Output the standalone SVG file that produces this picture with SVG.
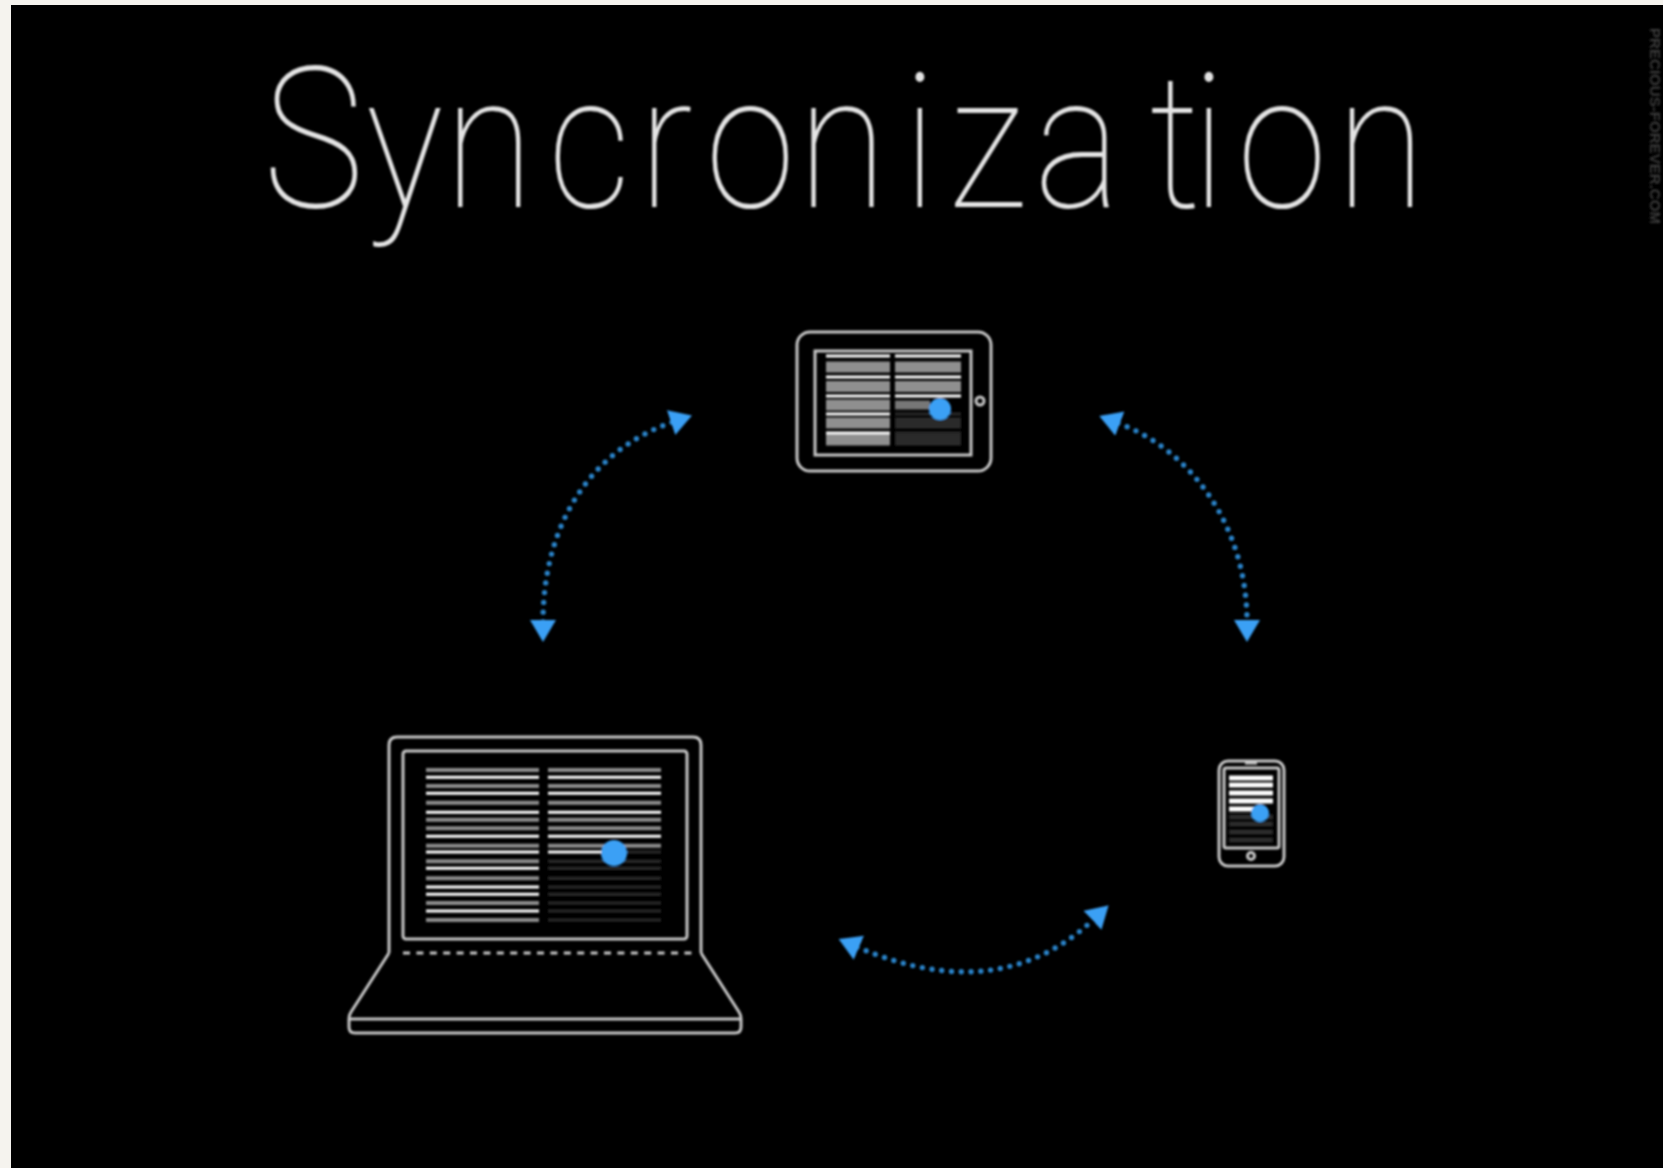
<svg xmlns="http://www.w3.org/2000/svg" width="1663" height="1168" viewBox="0 0 1663 1168">
<style>
.o{fill:none;stroke:#c8c8c8;stroke-width:3}
.g{fill:none;stroke:#8c8c8c;stroke-width:4}
.w{fill:none;stroke:#fff;stroke-width:3}
.d{fill:none;stroke:#2c2c2c;stroke-width:3}
.b{fill:#3ba0f5}
.c{fill:none;stroke:#2a84ca;stroke-width:5.400;stroke-linecap:round;stroke-dasharray:0 9.800}
.t{font-family:Roboto,"Liberation Sans",sans-serif;font-weight:100;fill:#e4e4e4}
</style>
<defs>
<filter id="s" x="-5%" y="-5%" width="110%" height="110%"><feGaussianBlur stdDeviation="0.8"/></filter>
<marker id="a" markerUnits="userSpaceOnUse" markerWidth="26" markerHeight="28" refX="2" refY="13" orient="auto-start-reverse"><path d="M0 0L22 13L0 26Z" fill="#3ba0f5"/></marker>
</defs>
<rect width="1663" height="1168" fill="#f5f3ee"/>
<rect x="11" y="5" width="1652" height="1163" fill="#000"/>
<g filter="url(#s)">
<g id="title"><text class="t" transform="scale(0.87 1)" y="207" font-size="187"><tspan x="350" style="font-size:197px" dx="-48">S</tspan><tspan x="420 511 630 734 811 917 1038 1090 1189 1321 1370 1422 1536">yncronization</tspan></text></g>
<g id="watermark"><text transform="translate(1650 28) rotate(90)" font-family="Liberation Sans,sans-serif" font-weight="700" font-size="15" fill="#3a3a3a" textLength="196" lengthAdjust="spacingAndGlyphs">PRECIOUS-FOREVER.COM</text></g>
<g id="tablet">
<rect class="o" x="797" y="332" width="194" height="139" rx="13"/>
<rect class="o" x="815" y="351" width="156" height="104"/>
<circle class="o" cx="980" cy="401" r="4"/>
<path d="M826 367H890M826 386.500H890M826 405H890M826 423H890M826 440H890M895 367H961M895 386.500H961" class="g" style="stroke-width:11;stroke:#8f8f8f"/>
<path d="M895 405H930" class="g" style="stroke-width:9;stroke:#777"/>
<path d="M895 423H961M895 440H961" class="d" style="stroke-width:11"/>
<path d="M826 356H890M826 377H890M826 396H890M826 414H890M826 433H890M895 356H961M895 377H961M895 396H961" class="w"/>
<path d="M895 414H961M895 433H961" class="d"/>
<circle class="b" cx="940" cy="409" r="11"/>
</g>
<g id="laptop">
<path class="o" d="M389 953V745Q389 737 397 737H693Q701 737 701 745V953"/>
<rect class="o" x="403" y="751" width="284" height="188" rx="3"/>
<path class="o" d="M389 953L351 1012Q349 1015 349 1019V1027Q349 1033 355 1033H735Q741 1033 741 1027V1019Q741 1015 739 1012L701 953"/>
<path class="o" d="M349 1019H741"/>
<path class="o" d="M403 953H695" stroke-dasharray="7 6.400"/>
<path class="g" d="M426 770H539M426 786H539M426 802.700H539M426 819.700H539M426 828.300H539M426 845.700H539M426 861.300H539M426 878.300H539M426 903H539M426 920H539M548 770H661M548 786H661M548 802.700H661M548 819.700H661M548 828.300H661M548 845.700H661"/>
<path class="w" d="M426 777.300H539M426 793.300H539M426 812.300H539M426 836.300H539M426 852H539M426 868.300H539M426 887H539M426 894.300H539M426 911H539M548 777.300H661M548 793.300H661M548 812.300H661M548 836.300H661M548 852H610"/>
<path class="d" d="M625 852H661M548 861.300H661M548 868.300H661M548 878.300H661M548 887H661M548 894.300H661M548 903H661M548 911H661M548 920H661"/>
<circle class="b" cx="614" cy="853" r="13"/>
</g>
<g id="phone">
<rect class="o" x="1219" y="761" width="65" height="105" rx="9"/>
<rect class="o" x="1224" y="768" width="55" height="80" rx="2"/>
<path class="o" d="M1245 763H1257"/>
<circle class="o" cx="1251" cy="856" r="3.500"/>
<path class="w" d="M1229 778H1273M1229 785H1273M1229 793H1273M1229 801H1273M1229 809H1255" style="stroke-width:5"/>
<path class="d" d="M1229 817H1273M1229 824H1273M1229 832H1273M1229 840H1273" style="stroke-width:5"/>
<circle class="b" cx="1260" cy="813" r="9"/>
</g>
<g id="connectors">
<path class="c" marker-start="url(#a)" marker-end="url(#a)" d="M543 622C543 525 590 450 673 422"/>
<path class="c" marker-start="url(#a)" marker-end="url(#a)" d="M1118 423C1195 452 1247 530 1247 622"/>
<path class="c" marker-start="url(#a)" marker-end="url(#a)" d="M857 947Q999 1008 1094 919"/>
</g>
</g>
</svg>
